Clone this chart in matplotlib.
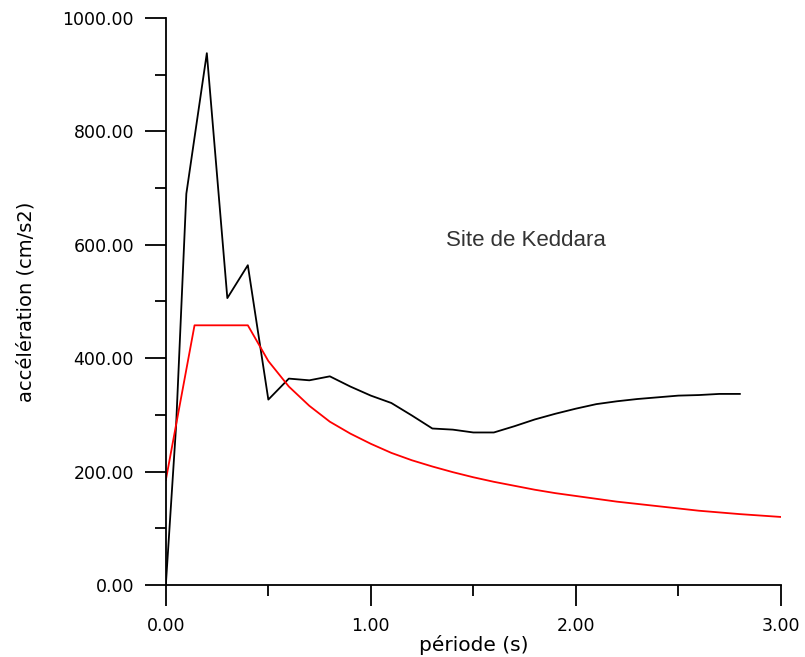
import matplotlib
matplotlib.use("Agg")
import matplotlib.pyplot as plt
from matplotlib.ticker import MultipleLocator, FormatStrFormatter

# spectre mesuré (noir)
periode_obs = [0.0, 0.05, 0.1, 0.2, 0.3, 0.4, 0.5, 0.6, 0.7, 0.8, 0.9, 1.0,
               1.1, 1.2, 1.3, 1.4, 1.5, 1.6, 1.7, 1.8, 1.9, 2.0, 2.1, 2.2,
               2.3, 2.4, 2.5, 2.6, 2.7, 2.8]
acc_obs = [0, 280, 690, 938, 506, 564, 327, 364, 361, 368, 350, 334,
           321, 299, 276, 274, 269, 269, 280, 292, 302, 311, 319, 324,
           328, 331, 334, 335, 337, 337]

# spectre réglementaire (rouge)
periode_reg = [0.0, 0.14, 0.4, 0.5, 0.6, 0.7, 0.8, 0.9, 1.0, 1.1, 1.2, 1.3,
               1.4, 1.5, 1.6, 1.7, 1.8, 1.9, 2.0, 2.2, 2.4, 2.6, 2.8, 3.0]
acc_reg = [185, 458, 458, 395, 350, 316, 288, 267, 249, 233, 220, 209,
           199, 190, 182, 175, 168, 162, 157, 147, 139, 131, 125, 120]

fig = plt.figure(figsize=(8.05, 6.57), dpi=100)
ax = fig.add_axes([0.206, 0.1096, 0.764, 0.863])

ax.plot(periode_obs, acc_obs, color="black", lw=1.3)
ax.plot(periode_reg, acc_reg, color="red", lw=1.3)

ax.set_xlim(0, 3)
ax.set_ylim(0, 1000)
ax.xaxis.set_major_locator(MultipleLocator(1))
ax.xaxis.set_minor_locator(MultipleLocator(0.5))
ax.yaxis.set_major_locator(MultipleLocator(200))
ax.yaxis.set_minor_locator(MultipleLocator(100))
ax.xaxis.set_major_formatter(FormatStrFormatter("%.2f"))
ax.yaxis.set_major_formatter(FormatStrFormatter("%.2f"))

for s in ["top", "right"]:
    ax.spines[s].set_visible(False)
for s in ["left", "bottom"]:
    ax.spines[s].set_linewidth(1.3)

ax.tick_params(which="major", direction="out", length=15, width=1.3, labelsize=12.5, color="black")
ax.tick_params(axis="x", which="major", pad=8)
ax.tick_params(axis="y", which="major", pad=8)
ax.tick_params(which="minor", direction="out", length=8, width=1.3)

ax.set_xlabel("période (s)", fontsize=14.5, labelpad=0)
ax.set_ylabel("accélération (cm/s2)", fontsize=14, labelpad=19)

ax.text(1.756, 608, "Site de Keddara", fontsize=16, ha="center", va="center",
        family=["Liberation Sans", "DejaVu Sans"], color="#333333")

fig.savefig("out.png", dpi=100)
